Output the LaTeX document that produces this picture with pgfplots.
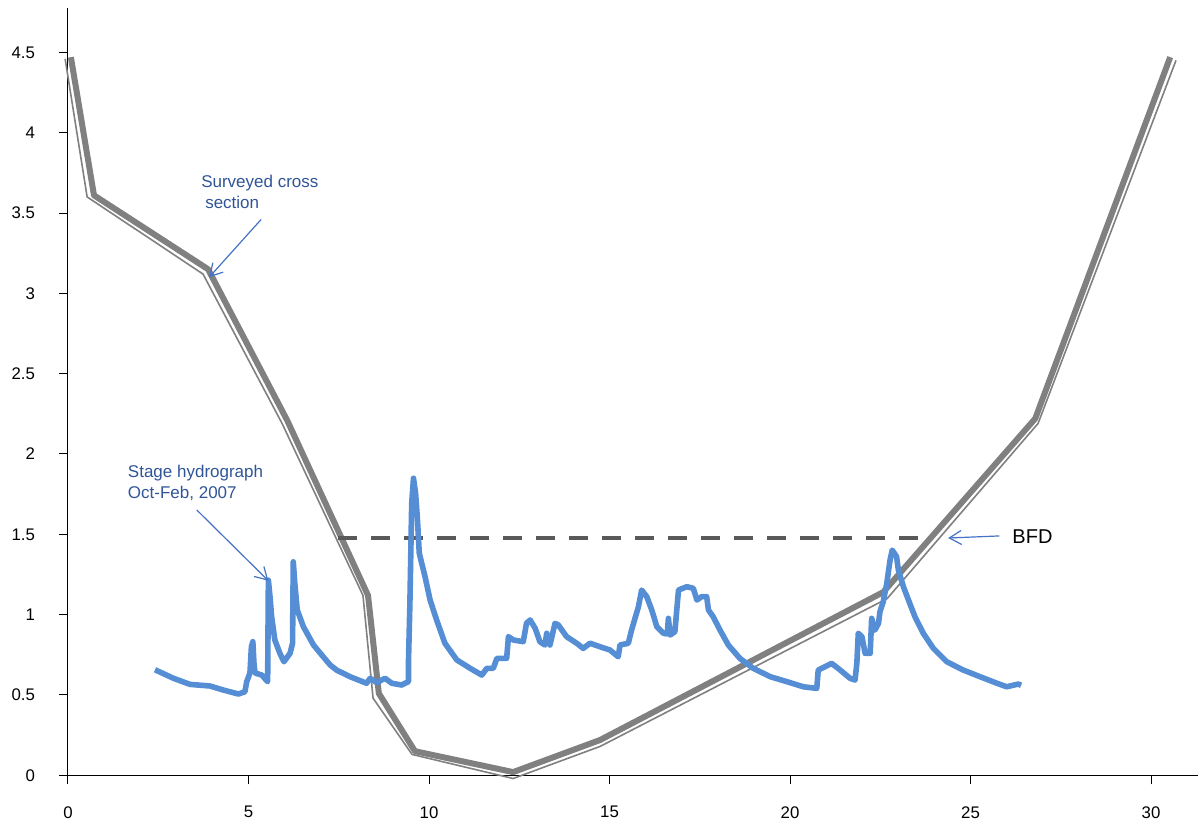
\documentclass[border=0pt]{standalone}
\usepackage{fontspec}
\setmainfont{Liberation Sans}
\usepackage{pgfplots}
\pgfplotsset{compat=1.18}
\usetikzlibrary{arrows.meta}
\definecolor{hydro}{RGB}{85,142,213}
\definecolor{xsec}{RGB}{128,128,128}
\definecolor{bfd}{RGB}{89,89,89}
\definecolor{annot}{RGB}{47,85,151}
\definecolor{arr}{RGB}{68,114,196}
\begin{document}
\begin{tikzpicture}
\useasboundingbox (-34pt,-25.85pt) rectangle (565pt,387.65pt);
\begin{axis}[
  at={(0pt,0pt)}, anchor=south west,
  scale only axis, width=565pt, height=383.65pt,
  xmin=0, xmax=31.30, ymin=0, ymax=4.776,
  axis x line*=bottom, axis y line*=left,
  axis line style={-, black, line width=0.5pt},
  xtick={0,5,...,30}, ytick={0,0.5,...,4.5},
  tick align=outside, major tick length=4.5pt,
  tick style={black, line width=0.5pt},
  /pgf/number format/assume math mode=true,
  tick label style={font=\fontsize{8.4}{10}\selectfont},
  yticklabel style={xshift=-8.5pt},
  xticklabel style={yshift=-7.5pt},
  clip=false,
]
% surveyed cross section: thin companion line
\addplot[xsec, line width=0.8pt, line join=round] coordinates {
(-0.08,4.46) (0.53,3.60) (3.74,3.12) (5.93,2.19) (8.17,1.12) (8.45,0.48)
(9.53,0.13) (12.33,-0.02) (14.74,0.18) (22.69,1.10) (26.87,2.19) (30.69,4.45)};
% surveyed cross section: thick line
\addplot[xsec, line width=3pt, line join=round] coordinates {
(0.08,4.47) (0.72,3.61) (3.88,3.15) (6.07,2.21) (8.31,1.12) (8.61,0.51)
(9.61,0.15) (12.33,0.02) (14.74,0.22) (22.58,1.14) (26.79,2.22) (30.53,4.47)};
% bankfull depth
\addplot[bfd, line width=2.3pt, dash pattern=on 9.5pt off 7pt] coordinates {
(7.49,1.477) (23.69,1.477)};
% stage hydrograph
\addplot[hydro, line width=2.8pt, line join=round] table {
x y
2.41 0.657
2.92 0.604
3.38 0.566
3.93 0.556
4.30 0.531
4.72 0.506
4.90 0.520
4.95 0.583
5.04 0.637
5.08 0.800
5.12 0.832
5.15 0.700
5.18 0.637
5.37 0.624
5.50 0.590
5.53 0.583
5.54 0.900
5.55 1.215
5.60 1.100
5.64 0.987
5.73 0.842
5.87 0.759
5.98 0.707
6.15 0.759
6.22 0.822
6.23 1.100
6.24 1.329
6.28 1.200
6.35 1.029
6.52 0.925
6.80 0.811
7.07 0.738
7.26 0.687
7.44 0.655
7.81 0.614
8.27 0.573
8.37 0.604
8.55 0.577
8.78 0.604
8.97 0.573
9.24 0.562
9.43 0.583
9.43 0.697
9.47 1.070
9.52 1.693
9.57 1.849
9.63 1.750
9.68 1.589
9.73 1.382
9.89 1.236
10.03 1.091
10.21 0.967
10.44 0.822
10.77 0.718
11.14 0.666
11.46 0.624
11.50 0.635
11.60 0.666
11.78 0.666
11.88 0.728
12.15 0.728
12.20 0.863
12.34 0.842
12.61 0.832
12.70 0.946
12.80 0.967
12.94 0.915
13.07 0.832
13.21 0.811
13.26 0.884
13.35 0.811
13.49 0.946
13.58 0.936
13.81 0.863
14.09 0.822
14.27 0.790
14.46 0.822
14.74 0.800
15.01 0.780
15.24 0.738
15.29 0.811
15.52 0.822
15.61 0.904
15.80 1.049
15.89 1.153
16.03 1.112
16.17 1.029
16.31 0.925
16.49 0.884
16.60 0.880
16.63 0.977
16.68 0.873
16.81 0.894
16.91 1.153
17.14 1.174
17.32 1.164
17.42 1.091
17.55 1.112
17.69 1.112
17.74 1.029
17.87 0.987
18.06 0.904
18.29 0.811
18.61 0.728
18.98 0.666
19.45 0.614
19.91 0.583
20.37 0.551
20.74 0.541
20.78 0.655
20.97 0.676
21.15 0.697
21.39 0.655
21.66 0.604
21.80 0.593
21.85 0.697
21.89 0.884
21.99 0.863
22.08 0.759
22.22 0.759
22.26 0.977
22.35 0.904
22.45 0.946
22.49 1.018
22.58 1.080
22.68 1.195
22.77 1.340
22.83 1.402
22.95 1.361
23.00 1.278
23.14 1.174
23.28 1.091
23.46 0.987
23.69 0.884
23.97 0.790
24.34 0.707
24.80 0.655
25.26 0.614
25.73 0.573
26.00 0.551
26.32 0.568
26.40 0.560
};
% annotations
\node[anchor=west, inner sep=0pt, align=left, text=annot,
  font=\fontsize{8.5}{10.5}\selectfont] at (axis cs:3.68,3.63)
  {Surveyed cross\\\hspace{2pt}section};
\draw[arr, line width=0.6pt, -{Straight Barb[length=6pt,width=7pt]}]
  (axis cs:5.35,3.46) -- (axis cs:3.91,3.10);
\node[anchor=west, inner sep=0pt, align=left, text=annot,
  font=\fontsize{8.5}{10.3}\selectfont] at (axis cs:1.65,1.82)
  {Stage hydrograph\\Oct-Feb, 2007};
\draw[arr, line width=0.6pt, -{Straight Barb[length=6pt,width=7pt]}]
  (axis cs:3.57,1.651) -- (axis cs:5.55,1.211);
\node[anchor=west, inner sep=0pt, text=black,
  font=\fontsize{10}{12}\selectfont] at (axis cs:26.15,1.485) {BFD};
\draw[arr, line width=0.6pt, -{Straight Barb[length=6pt,width=7pt]}]
  (axis cs:25.80,1.49) -- (axis cs:24.38,1.477);
\end{axis}
\end{tikzpicture}
\end{document}
